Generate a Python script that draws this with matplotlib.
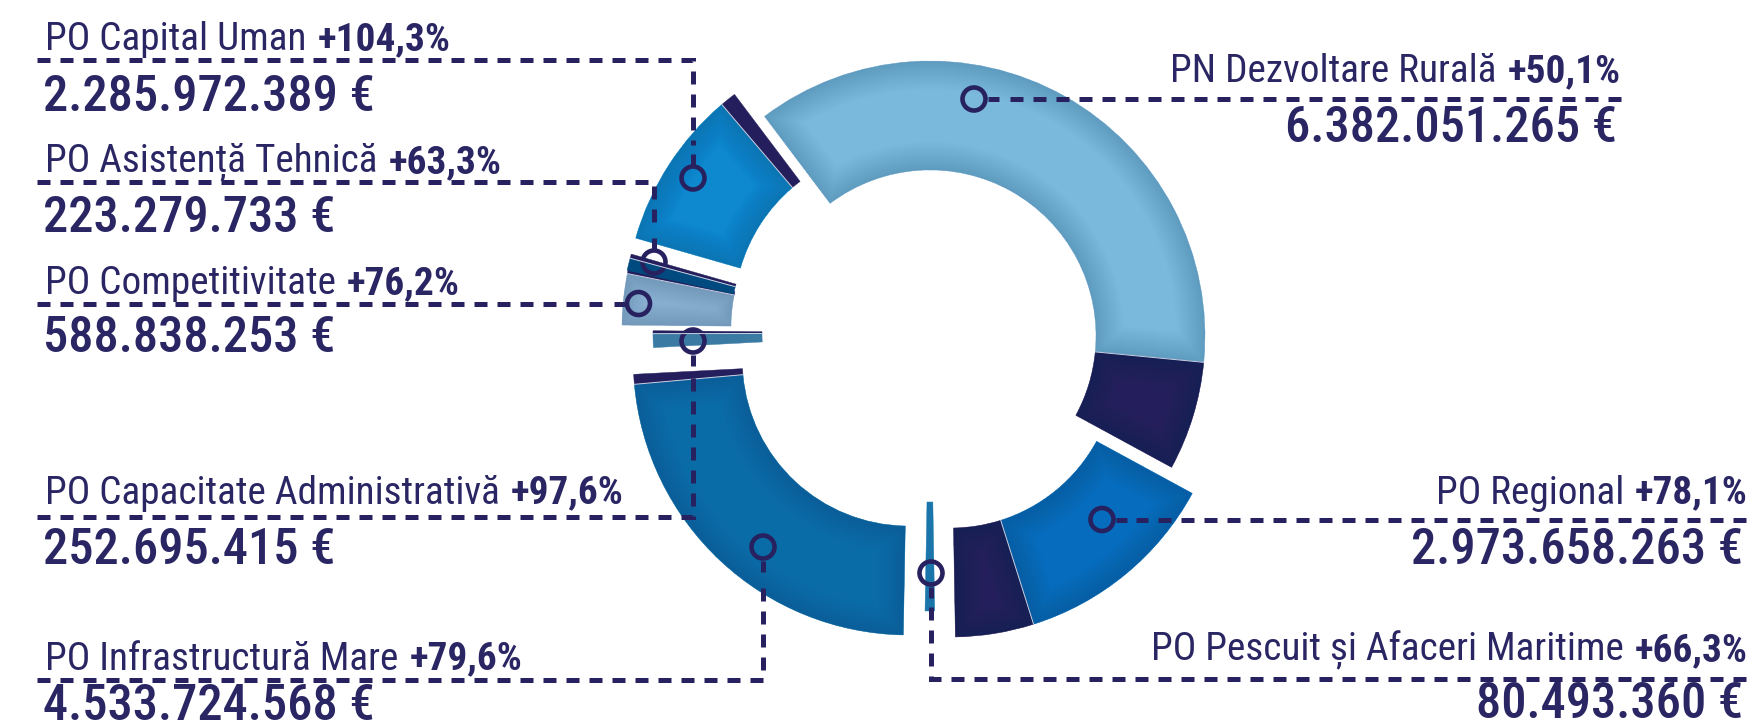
import numpy as np
import matplotlib
matplotlib.use("Agg")
import matplotlib.pyplot as plt
from matplotlib.patches import Wedge, Circle
from matplotlib import font_manager

# ---------------- data ----------------
programs = ["PN Dezvoltare Rurală", "PO Regional", "PO Pescuit și Afaceri Maritime",
            "PO Infrastructură Mare", "PO Capacitate Administrativă", "PO Competitivitate",
            "PO Asistență Tehnică", "PO Capital Uman"]
growth = ["+50,1%", "+78,1%", "+66,3%", "+79,6%", "+97,6%", "+76,2%", "+63,3%", "+104,3%"]
amounts = ["6.382.051.265 €", "2.973.658.263 €", "80.493.360 €", "4.533.724.568 €",
           "252.695.415 €", "588.838.253 €", "223.279.733 €", "2.285.972.389 €"]
# share of the ring (percent) of the lighter part and of the navy part, clockwise order
share_main = [36.8, 12.2, 0.56, 23.3, 0.81, 3.0, 0.72, 9.33]
share_dark = [6.4, 4.6, 0.0, 0.58, 0.17, 0.33, 0.25, 0.94]

# ---------------- styles / layout ----------------
main_colors = ["#7ab8dc", "#066cbd", "#1a76aa", "#0a6ca7", "#3b7ba3", "#8fb6d6", "#004a7f", "#0e88cf"]
NAVY = "#241f5c"
LINE = "#27225f"
TXT = "#2a2664"
SHADE = "#0b2a55"

CX, CY = 930, 336
R_OUT, R_IN = 275, 166
START = 127  # screen angle (deg) where the first slice starts, running clockwise
offsets = [(0, 0), (20.7, 26), (0, 0), (-21.7, 24), (-2, -2.7), (-33, -8.3), (-34.4, -6), (-30, -22)]

markers = [(974, 99), (1102, 519.5), (931, 573), (763, 547), (693, 341), (638.5, 303.5), (654, 262), (693, 178)]
paths = [
    [(974, 99), (1621, 99)],
    [(1102, 519.5), (1746, 519.5)],
    [(931, 573), (931, 679), (1746, 679)],
    [(763, 547), (763, 680), (37, 680)],
    [(693, 341), (693, 517), (37, 517)],
    [(638.5, 303.5), (37, 303.5)],
    [(654, 262), (654, 182), (37, 182)],
    [(693, 178), (693, 59.6), (37, 59.6)],
]
side = ["R", "R", "R", "L", "L", "L", "L", "L"]
label_x = [1621, 1748, 1748, 45, 45, 45, 45, 45]
label_y = [68, 489, 647, 655, 489, 280, 157, 36]
value_x = [1617, 1743, 1743, 43, 43, 43, 43, 43]
value_y = [124, 545, 700, 701, 546, 334, 213.5, 92.5]
label_w = [449, 304, 593, 482, 581, 425, 455, 404]
value_w = [327, 331, 274, 333, 288, 300, 291, 332]

names = {f.name for f in font_manager.fontManager.ttflist}
FONT = "DejaVu Sans"
for cand in ["Liberation Sans Narrow", "Roboto Condensed", "Open Sans Condensed", "Roboto", "Lato"]:
    if cand in names:
        FONT = cand
        break

fig = plt.figure(figsize=(17.62, 7.28), dpi=100)
ax = fig.add_axes([0, 0, 1, 1])
ax.set_xlim(0, 1762)
ax.set_ylim(728, 0)
ax.axis("off")

PX = 0.72  # points per pixel


def ring_part(center, a0, a1, color, shaded):
    base = Wedge(center, R_OUT, a0, a1, width=R_OUT - R_IN,
                 facecolor=color, edgecolor=color, lw=0.3)
    ax.add_patch(base)
    if shaded:
        for lw_px in range(4, 60, 4):
            s = Wedge(center, R_OUT, a0, a1, width=R_OUT - R_IN,
                      facecolor="none", edgecolor=SHADE, lw=lw_px * PX, alpha=0.012)
            ax.add_patch(s)
            s.set_clip_path(base)


# ---------------- donut ----------------
total = sum(share_main) + sum(share_dark)
k = 360.0 / total
ang = -START  # data angle (y axis inverted -> increasing data angle = clockwise on screen)
for i in range(len(programs)):
    c = (CX + offsets[i][0], CY + offsets[i][1])
    a_m = share_main[i] * k
    a_d = share_dark[i] * k
    ring_part(c, ang, ang + a_m, main_colors[i], a_m > 8)
    if a_d > 0:
        ring_part(c, ang + a_m, ang + a_m + a_d, NAVY, a_d > 8)
        t = np.deg2rad(ang + a_m)
        ax.plot([c[0] + R_IN * np.cos(t), c[0] + R_OUT * np.cos(t)],
                [c[1] + R_IN * np.sin(t), c[1] + R_OUT * np.sin(t)], color="#c9d3e6", lw=0.7)
    ang += a_m + a_d

# ---------------- leaders ----------------
LW = 5.0 * PX
MR = 11.5
for i in range(len(programs)):
    pts = np.array(paths[i], float)
    d = (pts[1] - pts[0]) / np.linalg.norm(pts[1] - pts[0])
    s0 = pts[0] + d * (MR + 2)
    s1 = s0 + d * 11
    ax.plot([s0[0], s1[0]], [s0[1], s1[1]], color=LINE, lw=LW, solid_capstyle="butt")
    rest = np.vstack([s1 + d * 9, pts[1:]])[::-1]
    ax.plot(rest[:, 0], rest[:, 1], color=LINE, lw=LW, linestyle=(0, (2.6, 2.0)),
            dash_capstyle="butt", dash_joinstyle="miter")
    ax.add_patch(Circle(markers[i], MR, fill=False, edgecolor=LINE, lw=4.6 * PX))

# ---------------- text ----------------
renderer = fig.canvas.get_renderer()


def wpx(s, fs, weight):
    t = ax.text(0, 0, s, fontsize=fs, fontweight=weight, family=FONT)
    w = t.get_window_extent(renderer).width
    t.remove()
    return w


base = 20.0
gap_frac = 0.28
VW = "medium"
lab_meas = [wpx(programs[i], base, "normal") + wpx(growth[i], base, "bold") + gap_frac * base / PX
            for i in range(len(programs))]
val_meas = [wpx(amounts[i], base, VW) for i in range(len(programs))]
FS_L = base * sum(label_w) / sum(lab_meas)
FS_V = base * sum(value_w) / sum(val_meas)
GAP = gap_frac * FS_L

for i in range(len(programs)):
    if side[i] == "L":
        t1 = ax.text(label_x[i], label_y[i], programs[i], ha="left", va="center_baseline",
                     fontsize=FS_L, color=TXT, family=FONT)
        ax.annotate(growth[i], xy=(1, 0), xycoords=t1, xytext=(GAP, 0), textcoords="offset points",
                    ha="left", va="bottom", fontsize=FS_L, fontweight="bold", color=TXT, family=FONT)
        ax.text(value_x[i], value_y[i], amounts[i], ha="left", va="center_baseline",
                fontsize=FS_V, fontweight=VW, color=TXT, family=FONT)
    else:
        t2 = ax.text(label_x[i], label_y[i], growth[i], ha="right", va="center_baseline",
                     fontsize=FS_L, fontweight="bold", color=TXT, family=FONT)
        ax.annotate(programs[i], xy=(0, 0), xycoords=t2, xytext=(-GAP, 0), textcoords="offset points",
                    ha="right", va="bottom", fontsize=FS_L, color=TXT, family=FONT)
        ax.text(value_x[i], value_y[i], amounts[i], ha="right", va="center_baseline",
                fontsize=FS_V, fontweight=VW, color=TXT, family=FONT)

fig.savefig("out.png", dpi=100)
